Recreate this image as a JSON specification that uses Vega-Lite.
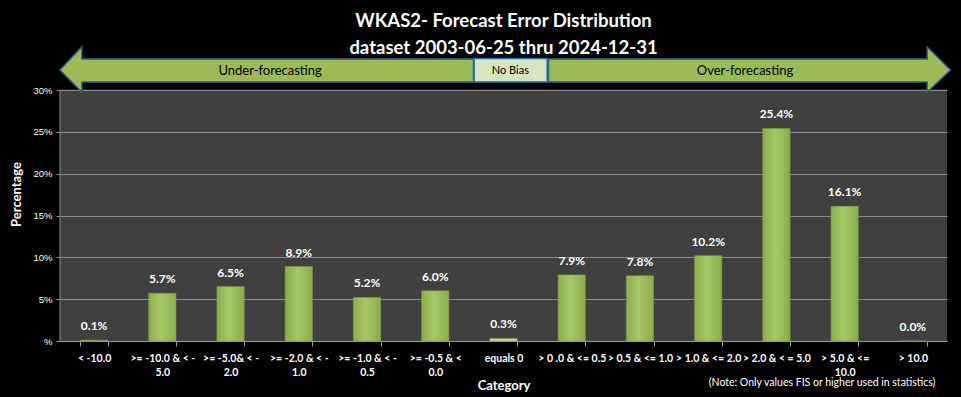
{
  "$schema": "https://vega.github.io/schema/vega-lite/v6.json",
  "autosize": {"type": "none"},
  "width": 887,
  "height": 294,
  "padding": {"left": 60, "top": 47, "right": 14, "bottom": 56},
  "background": "#000000",
  "view": {"fill": "#404040", "stroke": null},
  "config": {"font": "Lato"},
  "title": {
    "text": ["WKAS2- Forecast Error Distribution", "dataset 2003-06-25  thru 2024-12-31"],
    "color": "#ffffff",
    "font": "Lato",
    "fontSize": 18.5,
    "fontWeight": "bold",
    "lineHeight": 27,
    "frame": "group",
    "anchor": "middle",
    "offset": -13
  },
  "datasets": {
    "errors": [
      {"category": "< -10.0", "pct": 0.001},
      {"category": ">= -10.0 & < - 5.0", "pct": 0.057},
      {"category": ">= -5.0& < - 2.0", "pct": 0.065},
      {"category": ">= -2.0 & < - 1.0", "pct": 0.089},
      {"category": ">= -1.0 & < - 0.5", "pct": 0.052},
      {"category": ">= -0.5 & < 0.0", "pct": 0.060},
      {"category": "equals 0", "pct": 0.003},
      {"category": "> 0 .0 & <= 0.5", "pct": 0.079},
      {"category": "> 0.5 & <= 1.0", "pct": 0.078},
      {"category": "> 1.0 & <= 2.0", "pct": 0.102},
      {"category": "> 2.0 & < = 5.0", "pct": 0.254},
      {"category": "> 5.0 & <= 10.0", "pct": 0.161},
      {"category": "> 10.0", "pct": 0.0}
    ],
    "arrows": [
      {"arrow": "left", "x": 0.0, "top": 0.3239, "bottom": 0.3239},
      {"arrow": "left", "x": 0.32, "top": 0.3514, "bottom": 0.2976},
      {"arrow": "left", "x": 0.3201, "top": 0.337, "bottom": 0.3095},
      {"arrow": "left", "x": 6.06, "top": 0.337, "bottom": 0.3095},
      {"arrow": "right", "x": 7.16, "top": 0.337, "bottom": 0.3095},
      {"arrow": "right", "x": 12.7099, "top": 0.337, "bottom": 0.3095},
      {"arrow": "right", "x": 12.71, "top": 0.3514, "bottom": 0.2976},
      {"arrow": "right", "x": 13.05, "top": 0.3239, "bottom": 0.3239}
    ],
    "banner": [
      {"label": "Under-forecasting", "x": 3.08, "y": 0.3233},
      {"label": "No  Bias", "x": 6.6, "y": 0.3233},
      {"label": "Over-forecasting", "x": 10.04, "y": 0.3233}
    ]
  },
  "resolve": {"scale": {"x": "independent", "y": "independent"}},
  "layer": [
    {
      "data": {"name": "errors"},
      "encoding": {
        "x": {
          "field": "category",
          "type": "nominal",
          "sort": null,
          "scale": {"paddingInner": 0.6, "paddingOuter": 0.3},
          "axis": {
            "title": "Category",
            "titleColor": "#ffffff",
            "titleFont": "Lato",
            "titleFontSize": 13,
            "titleFontWeight": "bold",
            "titlePadding": 2,
            "labelAngle": 0,
            "labelColor": "#ffffff",
            "labelFont": "Lato",
            "labelFontSize": 10.5,
            "labelFontWeight": "bold",
            "labelPadding": 7,
            "labelLineHeight": 14,
            "labelLimit": 100,
            "labelExpr": "(indexof(datum.label, '>=') == 0 || datum.label == '> 5.0 & <= 10.0') ? [substring(datum.label, 0, lastindexof(datum.label, ' ')), substring(datum.label, lastindexof(datum.label, ' ') + 1)] : datum.label",
            "tickBand": "extent",
            "tickColor": "#9a9a9a",
            "tickSize": 5,
            "domainColor": "#9a9a9a",
            "grid": false
          }
        },
        "y": {
          "field": "pct",
          "type": "quantitative",
          "scale": {"domain": [0, 0.3514], "nice": false, "zero": true},
          "axis": {
            "title": "Percentage",
            "titleColor": "#ffffff",
            "titleFont": "Lato",
            "titleFontSize": 13,
            "titleFontWeight": "bold",
            "titlePadding": 9,
            "values": [0, 0.05, 0.1, 0.15, 0.2, 0.25, 0.3],
            "labelExpr": "datum.value == 0 ? '%' : format(datum.value, '.0%')",
            "labelColor": "#ffffff",
            "labelFont": "Liberation Sans",
            "labelFontSize": 9.5,
            "labelPadding": 4,
            "tickColor": "#9a9a9a",
            "tickSize": 4,
            "domain": false,
            "grid": true,
            "gridColor": "#8a8a8a",
            "gridWidth": 1
          }
        }
      },
      "layer": [
        {
          "mark": {"type": "bar", "stroke": "#7d9a45", "strokeWidth": 0.6},
          "encoding": {
            "fill": {
              "condition": {"test": "datum.category == 'equals 0'", "value": "#c9d6aa"},
              "value": {
                "gradient": "linear",
                "x1": 0, "y1": 0, "x2": 1, "y2": 0,
                "stops": [
                  {"offset": 0, "color": "#8aac4a"},
                  {"offset": 0.45, "color": "#a6c866"},
                  {"offset": 1, "color": "#8aac4a"}
                ]
              }
            }
          }
        },
        {
          "mark": {"type": "text", "baseline": "bottom", "dy": -7, "color": "#ffffff", "font": "Lato", "fontSize": 12, "fontWeight": "bold"},
          "encoding": {
            "text": {"field": "pct", "type": "quantitative", "format": ".1%"}
          }
        }
      ]
    },
    {
      "data": {"values": [{}]},
      "layer": [
        {
          "mark": {"type": "rect", "color": "#000000"},
          "encoding": {
            "x": {"datum": 0, "type": "quantitative", "scale": {"domain": [0, 13], "nice": false, "zero": false}, "axis": null},
            "x2": {"datum": 13},
            "y": {"datum": 0.3006, "type": "quantitative", "scale": {"domain": [0, 0.3514], "nice": false}, "axis": null},
            "y2": {"datum": 0.3514}
          }
        },
        {
          "mark": {"type": "rule", "color": "#8a8a8a", "strokeWidth": 1},
          "encoding": {
            "x": {"datum": 0, "type": "quantitative", "scale": {"domain": [0, 13], "nice": false, "zero": false}, "axis": null},
            "y": {"datum": 0, "type": "quantitative", "scale": {"domain": [0, 0.3514], "nice": false}, "axis": null},
            "y2": {"datum": 0.3}
          }
        },
        {
          "data": {"name": "arrows"},
          "transform": [{"filter": "datum.arrow == 'left'"}],
          "mark": {"type": "area", "fill": "#9bbb59", "stroke": "#3a5f8c", "strokeWidth": 1.5, "fillOpacity": 1, "orient": "vertical"},
          "encoding": {
            "x": {"field": "x", "type": "quantitative", "scale": {"domain": [0, 13], "nice": false, "zero": false}, "axis": null},
            "y": {"field": "top", "type": "quantitative", "scale": {"domain": [0, 0.3514], "nice": false}, "axis": null, "stack": null},
            "y2": {"field": "bottom"}
          }
        },
        {
          "data": {"name": "arrows"},
          "transform": [{"filter": "datum.arrow == 'right'"}],
          "mark": {"type": "area", "fill": "#9bbb59", "stroke": "#3a5f8c", "strokeWidth": 1.5, "fillOpacity": 1, "orient": "vertical"},
          "encoding": {
            "x": {"field": "x", "type": "quantitative", "scale": {"domain": [0, 13], "nice": false, "zero": false}, "axis": null},
            "y": {"field": "top", "type": "quantitative", "scale": {"domain": [0, 0.3514], "nice": false}, "axis": null, "stack": null},
            "y2": {"field": "bottom"}
          }
        },
        {
          "mark": {"type": "rect", "fill": "#d7e4bd", "stroke": "#1f6fb5", "strokeWidth": 1.5},
          "encoding": {
            "x": {"datum": 6.07, "type": "quantitative", "scale": {"domain": [0, 13], "nice": false, "zero": false}, "axis": null},
            "x2": {"datum": 7.14},
            "y": {"datum": 0.3376, "type": "quantitative", "scale": {"domain": [0, 0.3514], "nice": false}, "axis": null},
            "y2": {"datum": 0.3095}
          }
        },
        {
          "data": {"name": "banner"},
          "mark": {"type": "text", "color": "#000000", "font": "Lato", "baseline": "middle", "align": "center"},
          "encoding": {
            "x": {"field": "x", "type": "quantitative", "scale": {"domain": [0, 13], "nice": false, "zero": false}, "axis": null},
            "y": {"field": "y", "type": "quantitative", "scale": {"domain": [0, 0.3514], "nice": false}, "axis": null},
            "text": {"field": "label", "type": "nominal"},
            "size": {"condition": {"test": "datum.label == 'No  Bias'", "value": 11}, "value": 13}
          }
        },
        {
          "mark": {"type": "text", "color": "#ffffff", "font": "Lato", "fontSize": 10.5, "align": "right", "baseline": "middle"},
          "encoding": {
            "x": {"datum": 12.83, "type": "quantitative", "scale": {"domain": [0, 13], "nice": false, "zero": false}, "axis": null},
            "y": {"datum": -0.05, "type": "quantitative", "scale": {"domain": [0, 0.3514], "nice": false}, "axis": null},
            "text": {"value": "(Note: Only values FIS or higher used in statistics)"}
          }
        }
      ]
    }
  ]
}
